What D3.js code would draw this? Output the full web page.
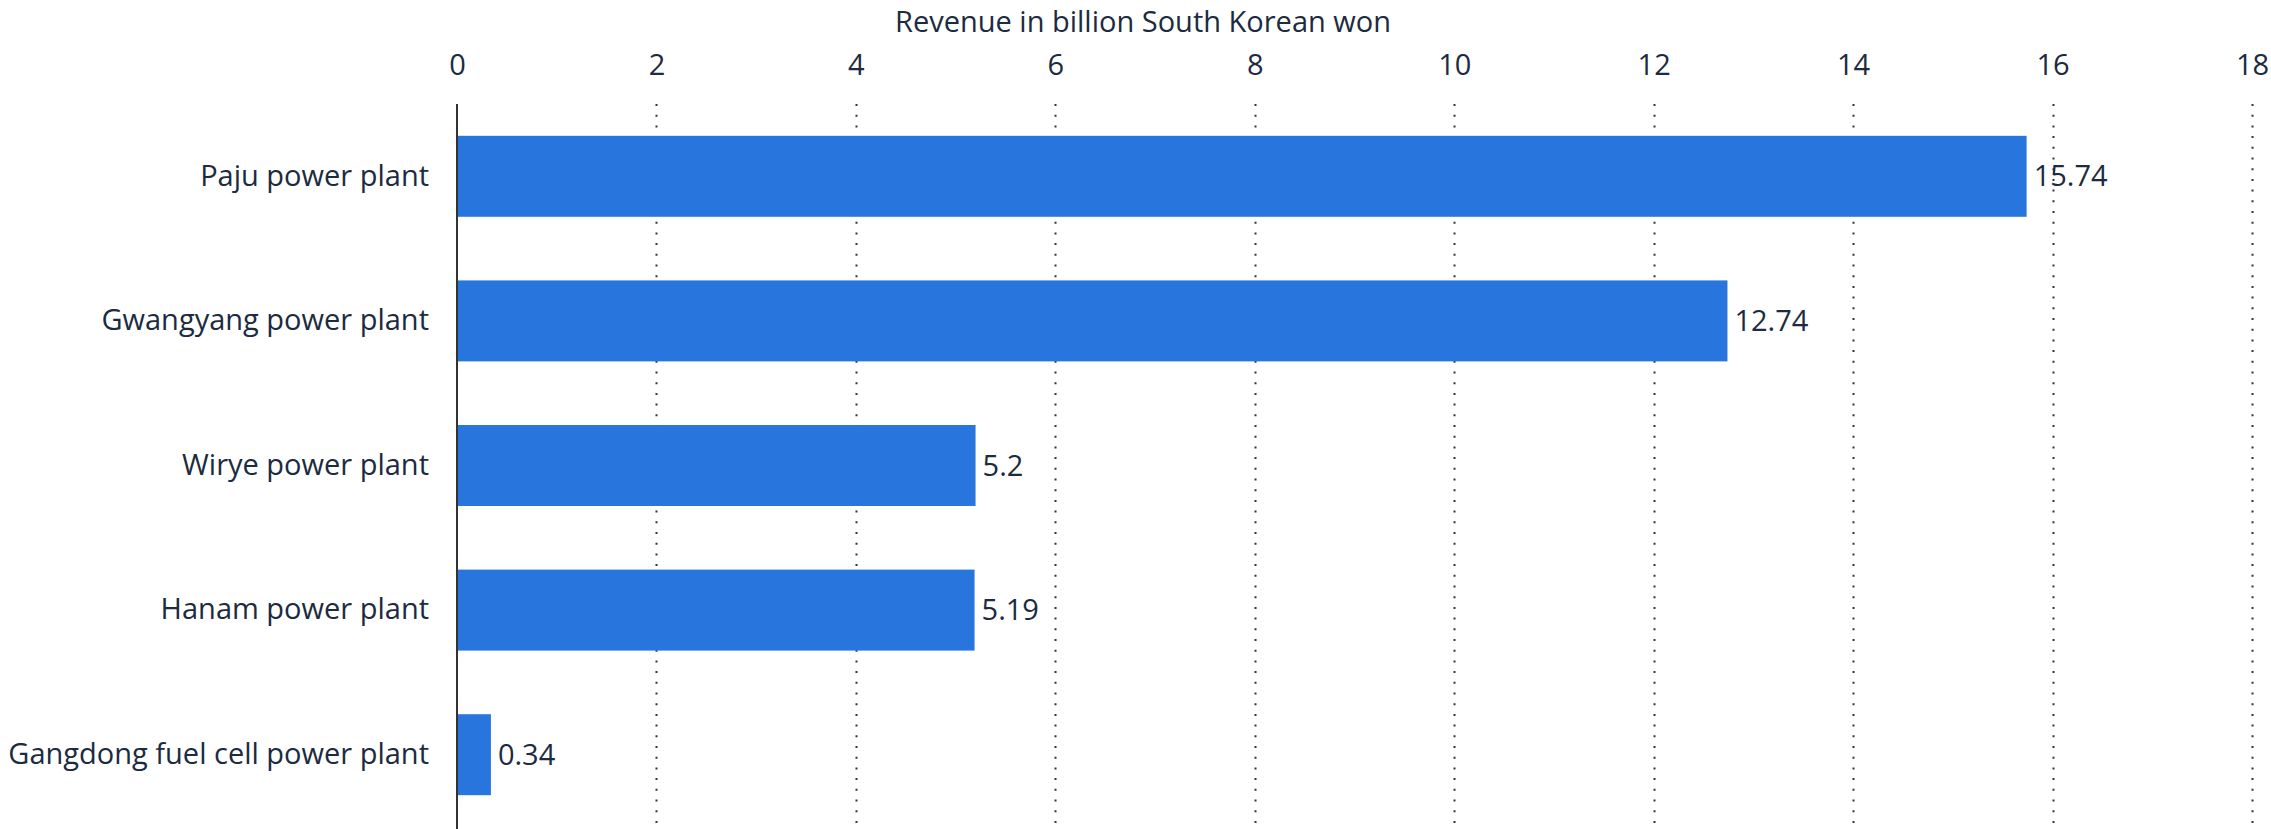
<!DOCTYPE html>
<html>
<head>
<meta charset="utf-8">
<script src="https://cdn.jsdelivr.net/npm/d3@7"></script>
<style>
  html, body { margin: 0; padding: 0; background: #fff; }
  svg { display: block; font-family: "Open Sans", sans-serif; }
</style>
</head>
<body>
<svg id="chart" width="2271" height="829"></svg>
<script>
// plant names, top to bottom
const plants = [
  "Paju power plant",
  "Gwangyang power plant",
  "Wirye power plant",
  "Hanam power plant",
  "Gangdong fuel cell power plant"
];
// revenue in billion KRW
const revenue = [15.74, 12.74, 5.2, 5.19, 0.34];
const xTicks = [0, 2, 4, 6, 8, 10, 12, 14, 16, 18];
const axisTitle = "Revenue in billion South Korean won";

const textColor = "#1c2b40";
const barColor = "#2876dd";
const fontSize = "29px";

const svg = d3.select("#chart");
const width = 2271, height = 829;
const margin = { top: 104, right: 19, bottom: 2, left: 457 };

const x = d3.scaleLinear()
  .domain([0, 18])
  .range([margin.left, width - margin.right]);

const y = d3.scaleBand()
  .domain(plants)
  .range([margin.top, height - margin.bottom])
  .paddingInner(0.44)
  .paddingOuter(0.22);

// dotted grid lines (behind bars)
svg.append("g")
  .selectAll("line")
  .data(xTicks.filter(t => t > 0))
  .join("line")
    .attr("x1", d => Math.round(x(d)) + 0.5)
    .attr("x2", d => Math.round(x(d)) + 0.5)
    .attr("y1", margin.top)
    .attr("y2", height)
    .attr("stroke", "#333")
    .attr("stroke-width", 2)
    .attr("stroke-dasharray", "2,8.7");

// top axis, only labels
const xAxis = svg.append("g")
  .attr("transform", `translate(0,${margin.top})`)
  .call(d3.axisTop(x).tickValues(xTicks).tickSize(0).tickPadding(29).tickFormat(d3.format("d")));
xAxis.select(".domain").remove();
xAxis.selectAll("text")
  .attr("fill", textColor)
  .style("font-size", fontSize)
  .style("font-family", "'Open Sans', sans-serif");

svg.append("text")
  .attr("x", 1143)
  .attr("y", 32)
  .attr("text-anchor", "middle")
  .attr("fill", textColor)
  .style("font-size", fontSize)
  .text(axisTitle);

// bars
const rows = plants.map((p, i) => ({ name: p, value: revenue[i] }));

svg.append("g")
  .selectAll("rect")
  .data(rows)
  .join("rect")
    .attr("x", x(0))
    .attr("y", d => y(d.name))
    .attr("width", d => x(d.value) - x(0))
    .attr("height", y.bandwidth())
    .attr("fill", barColor);

// value labels
svg.append("g")
  .selectAll("text")
  .data(rows)
  .join("text")
    .attr("x", d => x(d.value) + 7)
    .attr("y", d => y(d.name) + y.bandwidth() / 2)
    .attr("dy", "0.35em")
    .attr("fill", textColor)
    .style("font-size", fontSize)
    .text(d => d.value);

// left axis, category labels
const yAxis = svg.append("g")
  .attr("transform", `translate(${margin.left},0)`)
  .call(d3.axisLeft(y).tickSize(0).tickPadding(28));
yAxis.select(".domain")
  .attr("stroke", "#333")
  .attr("stroke-width", 2)
  .attr("d", `M0,${margin.top}V${height}`);
yAxis.selectAll("text")
  .attr("fill", textColor)
  .style("font-size", fontSize)
  .style("font-family", "'Open Sans', sans-serif");
</script>
</body>
</html>
